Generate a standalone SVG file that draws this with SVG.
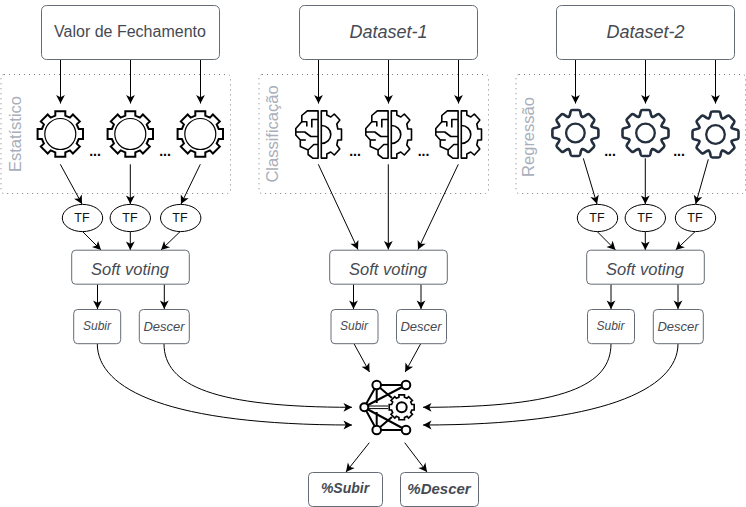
<svg xmlns="http://www.w3.org/2000/svg" xmlns:xlink="http://www.w3.org/1999/xlink" width="746" height="507" viewBox="0 0 746 507">
<style>
.t{font-family:"Liberation Sans",Arial,sans-serif;fill:#454a52;text-anchor:middle}
.i{font-style:italic}
.box{fill:#fff;stroke:#666c76;stroke-width:1}
.dot{fill:none;stroke:#7d7d7d;stroke-width:1;stroke-dasharray:1 4}
.side{font-family:"Liberation Sans",Arial,sans-serif;font-size:16.5px;fill:#a9afba;text-anchor:middle}
.tf{fill:#fff;stroke:#000;stroke-width:1}
.tft{font-family:"Liberation Sans",Arial,sans-serif;font-size:12.5px;fill:#111;text-anchor:middle}
.dots{font-family:"Liberation Sans",Arial,sans-serif;font-size:14px;font-weight:bold;fill:#000;text-anchor:middle}
.c path{fill:none;stroke:#000;stroke-width:1;marker-end:url(#a)}
.g1{fill:none;stroke:#000;stroke-width:2}
.g3{fill:none;stroke:#232f3e;stroke-width:2.6;stroke-linejoin:round;stroke-linecap:round}
.br{fill:none;stroke:#000;stroke-width:1.6;stroke-linejoin:round}
.net{fill:none;stroke:#000;stroke-width:2}
</style>
<defs>
<marker id="a" markerUnits="userSpaceOnUse" markerWidth="10" markerHeight="10" viewBox="0 0 10 10" refX="9" refY="5" orient="auto"><path d="M9,5 L0.5,0.6 L2.7,5 L0.5,9.4Z" fill="#000"/></marker>
<path id="cog" d="M-5,-22.7 H5 V-18.4 L9.6,-16.4 12.6,-19.5 19.5,-12.6 16.4,-9.6 18.4,-5 H22.7 V5 H18.4 L16.4,9.6 19.5,12.6 12.6,19.5 9.6,16.4 5,18.4 V22.7 H-5 V18.4 L-9.6,16.4 -12.6,19.5 -19.5,12.6 -16.4,9.6 -18.4,5 H-22.7 V-5 H-18.4 L-16.4,-9.6 -19.5,-12.6 -12.6,-19.5 -9.6,-16.4 -5,-18.4Z"/>
<g id="gearA" class="g1"><use xlink:href="#cog" href="#cog"/><circle r="15.5" stroke-width="1.2"/></g>
<path id="tooth" d="M-6.7,-16.2 Q-5.8,-16.6 -5.4,-18.5 L-4.8,-21.5 Q-4.4,-23 -3,-23 H3 Q4.4,-23 4.8,-21.5 L5.4,-18.5 Q5.8,-16.6 6.7,-16.2"/>
<g id="gearC" class="g3">
<use xlink:href="#tooth" href="#tooth"/>
<use xlink:href="#tooth" href="#tooth" transform="rotate(45)"/>
<use xlink:href="#tooth" href="#tooth" transform="rotate(90)"/>
<use xlink:href="#tooth" href="#tooth" transform="rotate(135)"/>
<use xlink:href="#tooth" href="#tooth" transform="rotate(180)"/>
<use xlink:href="#tooth" href="#tooth" transform="rotate(225)"/>
<use xlink:href="#tooth" href="#tooth" transform="rotate(270)"/>
<use xlink:href="#tooth" href="#tooth" transform="rotate(315)"/>
<circle r="9.3" stroke-width="2.3"/>
</g>
<g id="brain" class="br">
<path d="M-1.7,-23.6 H-12.5 L-18,-19 V-12.8 L-24,-6 V0.5 L-19.5,5.5 V12 L-11.7,15.5 V20 L-6.7,23.8 H-1.7Z"/>
<path d="M-1.7,-15 H-8 V-7"/>
<path d="M-18,-12.8 H-13 V-8"/>
<path d="M-24,-2.5 H-15 L-9,2 H-1.7"/>
<path d="M-19.5,5.5 H-14"/>
<path d="M-11.7,15.5 L-6,10 H-1.7"/>
<path d="M1.5,-23.6 H7 V-19.5 L11,-17.5 14.5,-20.5 20,-14.5 17,-10.5 18,-5.5 H21.7 V5.5 H18 L17,10.5 20,14.5 14.5,20.5 11,17.5 7,19.5 V23.6 H1.5Z"/>
<path d="M1.5,-9 A9.5,9 0 0 1 1.5,9"/>
</g>
</defs>
<rect width="746" height="507" fill="#fff"/>

<g id="container-estatistico"><rect class="dot" x="1" y="74.5" width="229.5" height="119" rx="3"/><text class="side" transform="translate(20.7,134) rotate(-90)">Estatístico</text></g>
<g id="container-classificacao"><rect class="dot" x="259" y="74.5" width="229.5" height="119" rx="3"/><text class="side" transform="translate(278.3,134) rotate(-90)">Classificação</text></g>
<g id="container-regressao"><rect class="dot" x="516" y="74.5" width="229.5" height="119" rx="3"/><text class="side" transform="translate(533.5,137) rotate(-90)">Regressão</text></g>

<g id="connectors" class="c">
<path d="M60.5,59.5V103.5"/><path d="M130.5,59.5V103.5"/><path d="M200.5,59.5V103.5"/>
<path d="M318.5,59.5V103.5"/><path d="M388.5,59.5V103.5"/><path d="M458.5,59.5V103.5"/>
<path d="M575.5,59.5V103.5"/><path d="M645.5,59.5V103.5"/><path d="M715.5,59.5V103.5"/>
<path d="M60.3,164.3L82,204"/><path d="M130.3,164.3V204"/><path d="M200.3,164.3L181,204"/>
<path d="M318.3,164.3L358,249.5"/><path d="M388.3,164.3V249.5"/><path d="M458.3,164.3L418,249.5"/>
<path d="M583.3,158.3L597,204"/><path d="M645.3,158.3V204"/><path d="M708.3,159.3L695.7,204"/>
<path d="M82.7,231.7L101,250"/><path d="M130.3,231.7V250"/><path d="M180,231.7L161,250"/>
<path d="M597.3,231.7L615.5,250"/><path d="M645.3,231.7V250"/><path d="M695,231.7L675.7,250"/>
<path d="M97.5,284.3V309"/><path d="M164.3,284.3V309"/>
<path d="M353.5,284.3V309"/><path d="M421,284.3V309"/>
<path d="M611,284.3V309"/><path d="M678,284.3V309"/>
<path d="M97.3,343.7C97.3,390 170,425 352,425"/>
<path d="M164,343.7C164,386 215,407.3 352,407.3"/>
<path d="M611,343.7C611,385 565,407.3 423,407.3"/>
<path d="M678,343.7C678,390 600,425 423,425"/>
<path d="M354,343.7L369.5,372"/><path d="M420.7,343.7L405.2,372"/>
<path d="M369.3,442.7L346,472"/><path d="M404.7,442.7L427,472"/>
</g>

<g id="src-1"><rect class="box" x="41.5" y="5.5" width="178" height="54" rx="5"/><text class="t" x="130" y="36.5" font-size="16">Valor de Fechamento</text></g>
<g id="src-2"><rect class="box" x="299.5" y="5.5" width="178" height="54" rx="5"/><text class="t i" x="388.5" y="37.5" font-size="18">Dataset-1</text></g>
<g id="src-3"><rect class="box" x="556.5" y="5.5" width="178" height="54" rx="5"/><text class="t i" x="645.5" y="37.5" font-size="18">Dataset-2</text></g>

<g id="gear-1a"><use xlink:href="#gearA" href="#gearA" x="60.3" y="134"/></g>
<g id="gear-1b"><use xlink:href="#gearA" href="#gearA" x="130.3" y="134"/></g>
<g id="gear-1c"><use xlink:href="#gearA" href="#gearA" x="200.3" y="134"/></g>
<g id="brain-2a"><use xlink:href="#brain" href="#brain" x="319.8" y="134.5"/></g>
<g id="brain-2b"><use xlink:href="#brain" href="#brain" x="389.8" y="134.5"/></g>
<g id="brain-2c"><use xlink:href="#brain" href="#brain" x="459.8" y="134.5"/></g>
<g id="gear-3a"><use xlink:href="#gearC" href="#gearC" x="575.4" y="133"/></g>
<g id="gear-3b"><use xlink:href="#gearC" href="#gearC" x="645.5" y="133"/></g>
<g id="gear-3c"><use xlink:href="#gearC" href="#gearC" x="715.5" y="134.5"/></g>
<g id="ellipsis">
<text class="dots" x="95" y="155.5">...</text><text class="dots" x="165" y="155.5">...</text>
<text class="dots" x="355" y="155.5">...</text><text class="dots" x="423.5" y="155.5">...</text>
<text class="dots" x="610" y="155.5">...</text><text class="dots" x="679" y="155.5">...</text>
</g>

<g id="tf-1a"><ellipse class="tf" cx="82.5" cy="218" rx="20.2" ry="13.6"/><text class="tft" x="82" y="222">TF</text></g>
<g id="tf-1b"><ellipse class="tf" cx="130.3" cy="218" rx="20.2" ry="13.6"/><text class="tft" x="130" y="222">TF</text></g>
<g id="tf-1c"><ellipse class="tf" cx="180.7" cy="218" rx="20.2" ry="13.6"/><text class="tft" x="180" y="222">TF</text></g>
<g id="tf-3a"><ellipse class="tf" cx="597.5" cy="218" rx="20.2" ry="13.6"/><text class="tft" x="597" y="222">TF</text></g>
<g id="tf-3b"><ellipse class="tf" cx="645.3" cy="218" rx="20.2" ry="13.6"/><text class="tft" x="645" y="222">TF</text></g>
<g id="tf-3c"><ellipse class="tf" cx="695.5" cy="218" rx="20.2" ry="13.6"/><text class="tft" x="695" y="222">TF</text></g>

<g id="vote-1"><rect class="box" x="71.7" y="250.2" width="117.6" height="34" rx="4"/><text class="t i" x="130" y="275" font-size="16.5">Soft voting</text></g>
<g id="vote-2"><rect class="box" x="329.7" y="250.2" width="117.6" height="34" rx="4"/><text class="t i" x="388" y="275" font-size="16.5">Soft voting</text></g>
<g id="vote-3"><rect class="box" x="586.7" y="250.2" width="117.6" height="34" rx="4"/><text class="t i" x="645" y="275" font-size="16.5">Soft voting</text></g>

<g id="subir-1"><rect class="box" x="73.7" y="309.5" width="47" height="34.2" rx="4"/><text class="t i" x="97" y="330" font-size="12">Subir</text></g>
<g id="descer-1"><rect class="box" x="139.3" y="309.5" width="50" height="34.2" rx="4"/><text class="t i" x="164" y="331" font-size="13">Descer</text></g>
<g id="subir-2"><rect class="box" x="331" y="309.5" width="47" height="34.2" rx="4"/><text class="t i" x="354" y="330" font-size="12">Subir</text></g>
<g id="descer-2"><rect class="box" x="396.5" y="309.5" width="50" height="34.2" rx="4"/><text class="t i" x="421" y="331" font-size="13">Descer</text></g>
<g id="subir-3"><rect class="box" x="587.5" y="309.5" width="47" height="34.2" rx="4"/><text class="t i" x="610.5" y="330" font-size="12">Subir</text></g>
<g id="descer-3"><rect class="box" x="653.3" y="309.5" width="50" height="34.2" rx="4"/><text class="t i" x="678" y="331" font-size="13">Descer</text></g>

<g id="network" class="net">
<path d="M376.7,385H406M376.7,385L364.3,407.3L376.7,430H406M376.7,385V403M376.7,430V412M368,405L406,385M368,409.5L406,430M376.7,385L392,398M376.7,430L392,417"/>
<path d="M368,406H388M368,408.6H388" stroke-width="1"/>
<circle cx="364.3" cy="407.3" r="4" fill="#fff"/><circle cx="376.7" cy="385" r="4.3" fill="#fff"/><circle cx="406" cy="385" r="4.3" fill="#fff"/><circle cx="376.7" cy="430" r="4.3" fill="#fff"/><circle cx="406" cy="430" r="4.3" fill="#fff"/>
<g transform="translate(401.7,407.3) scale(.55)"><use xlink:href="#cog" href="#cog" fill="#fff" stroke-width="3"/></g>
<circle cx="401.7" cy="407.3" r="5"/>
</g>

<g id="out-subir"><rect class="box" x="308.5" y="472.5" width="74" height="34" rx="4"/><text class="t i" x="345" y="493.3" font-size="14" font-weight="bold">%Subir</text></g>
<g id="out-descer"><rect class="box" x="400.5" y="472.5" width="78" height="34" rx="4"/><text class="t i" x="439" y="494.3" font-size="15" font-weight="bold">%Descer</text></g>
</svg>
